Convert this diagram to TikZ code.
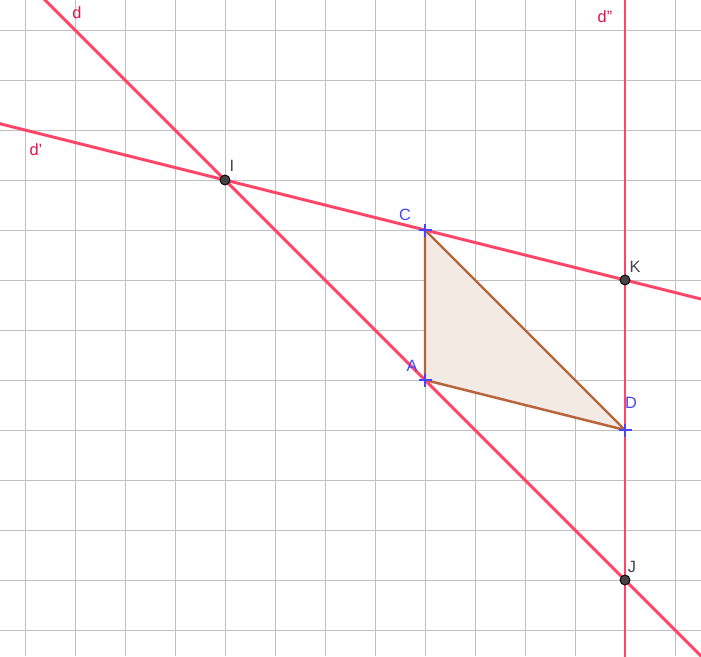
\documentclass[tikz,border=0pt]{standalone}
\usepackage{fontspec}
\setmainfont{Liberation Sans}
\usetikzlibrary{calc}
\definecolor{linered}{RGB}{255,70,105}
\definecolor{lblred}{RGB}{225,20,70}
\definecolor{tribrown}{RGB}{181,101,58}
\definecolor{trifill}{RGB}{244,234,228}
\definecolor{ptblue}{RGB}{70,70,255}
\definecolor{gridgray}{RGB}{192,192,192}
\definecolor{ptgray}{RGB}{68,68,68}
\tikzset{
  gline/.style={linered, line width=1.7pt},
  tri/.style={draw=tribrown, fill=trifill, line width=1.4pt, line join=round},
  dotpt/.style={circle, fill=ptgray, draw=black, line width=0.5pt, inner sep=0pt, minimum size=0.2cm},
  crosspt/.style={ptblue, line width=1.6pt},
  lblline/.style={lblred},
  lblgray/.style={ptgray},
  lblblue/.style={ptblue}
}
\begin{document}
\begin{tikzpicture}[every node/.style={font=\fontsize{9.3}{11}\selectfont}]
\useasboundingbox (0,0) rectangle (14.02,-13.12);
\clip (0,0) rectangle (14.02,-13.12);
\fill[white] (0,0) rectangle (14.02,-13.12);
% grid
\foreach \x in {0.5,1.5,...,13.5} \draw[gridgray, line width=0.55pt] (\x,0) -- (\x,-13.12);
\foreach \y in {-0.6,-1.6,...,-12.6} \draw[gridgray, line width=0.55pt] (0,\y) -- (14.02,\y);
% points
\coordinate (I) at (4.5,-3.6);
\coordinate (C) at (8.5,-4.6);
\coordinate (K) at (12.5,-5.6);
\coordinate (A) at (8.5,-7.6);
\coordinate (D) at (12.5,-8.6);
\coordinate (J) at (12.5,-11.6);
% triangle
\filldraw[tri] (A) -- (C) -- (D) -- cycle;
% lines d, d', d''
\draw[gline] ($(I)!-2!(A)$) -- ($(I)!4!(A)$);
\draw[gline] ($(I)!-1.5!(C)$) -- ($(I)!3!(C)$);
\draw[gline] ($(K)!-1!(J)$) -- ($(K)!1.5!(J)$);
\node[lblline] at (1.54,-0.26) {d};
\node[lblline] at (0.72,-3.0) {d'};
\node[lblline] at (12.1,-0.34) {d''};
% intersections
\node[dotpt] (Idot) at (I) {};
\node[dotpt] (Kdot) at (K) {};
\node[dotpt] (Jdot) at (J) {};
\node[lblgray] at (4.64,-3.32) {I};
\node[lblgray] at (12.7,-5.34) {K};
\node[lblgray] at (12.64,-11.34) {J};
% vertices
\foreach \p in {A,C,D}
  \draw[crosspt] ($(\p)+(-0.13,0)$) -- ($(\p)+(0.13,0)$) ($(\p)+(0,-0.13)$) -- ($(\p)+(0,0.13)$);
\node[lblblue] at (8.1,-4.3) {C};
\node[lblblue] at (8.24,-7.32) {A};
\node[lblblue] at (12.62,-8.06) {D};
\end{tikzpicture}
\end{document}
